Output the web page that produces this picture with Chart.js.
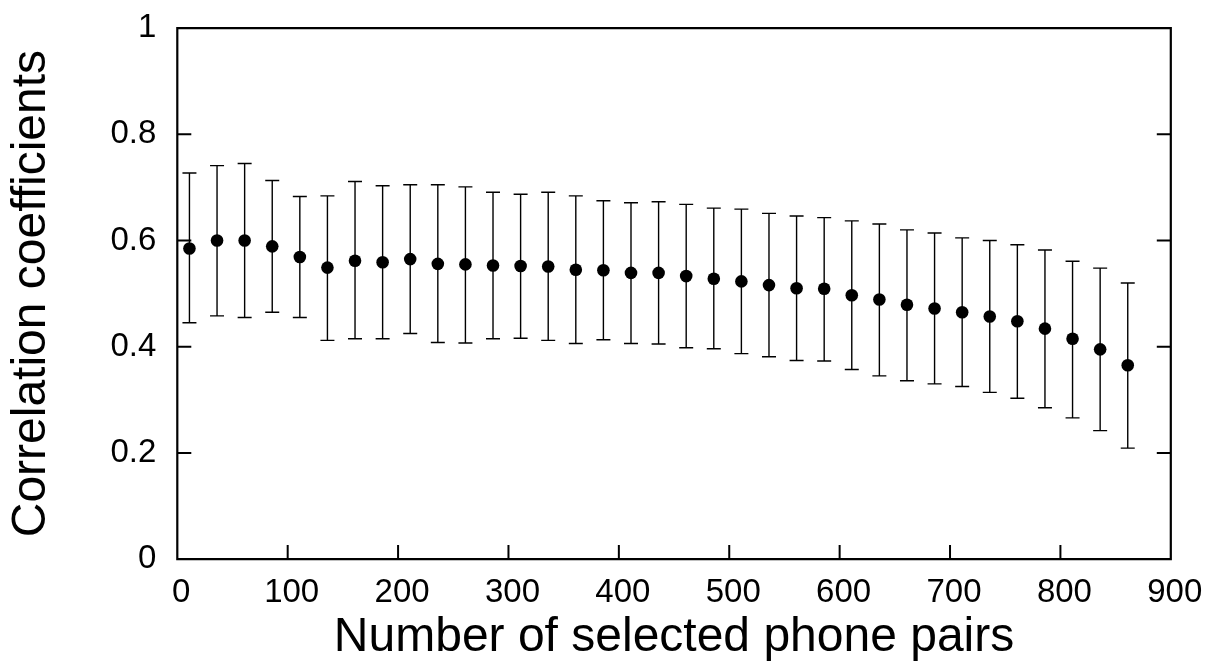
<!DOCTYPE html>
<html>
<head>
<meta charset="utf-8">
<script src="https://cdn.jsdelivr.net/npm/chart.js@4.4.1/dist/chart.umd.min.js"></script>
<style>
  html, body { margin: 0; padding: 0; background: #fff; }
  #wrap { width: 1207px; height: 662px; }
</style>
</head>
<body>
<div id="wrap"><canvas id="c" width="1207" height="662"></canvas></div>
<script>
const pairCounts = [11,36,61,86,111,136,161,186,211,236,261,286,311,336,361,386,411,436,461,486,511,536,561,586,611,636,661,686,711,736,761,786,811,836,861];
const meanCorr = [0.585,0.600,0.600,0.589,0.569,0.549,0.562,0.559,0.565,0.556,0.555,0.553,0.552,0.551,0.545,0.544,0.539,0.539,0.533,0.528,0.523,0.516,0.510,0.509,0.497,0.489,0.479,0.472,0.465,0.457,0.448,0.434,0.415,0.395,0.365];
const upperCorr = [0.727,0.741,0.745,0.713,0.683,0.684,0.711,0.703,0.705,0.705,0.701,0.691,0.687,0.691,0.684,0.675,0.671,0.673,0.668,0.661,0.659,0.651,0.646,0.643,0.637,0.631,0.620,0.614,0.605,0.600,0.592,0.582,0.561,0.548,0.520];
const lowerCorr = [0.445,0.458,0.455,0.465,0.455,0.412,0.415,0.415,0.425,0.408,0.407,0.415,0.416,0.412,0.406,0.413,0.406,0.405,0.398,0.396,0.387,0.381,0.374,0.373,0.357,0.345,0.336,0.330,0.325,0.314,0.303,0.285,0.266,0.242,0.209];
const xTickValues = [0,100,200,300,400,500,600,700,800,900];
const yTickValues = [0,0.2,0.4,0.6,0.8,1];
const yTickLabels = ['0','0.2','0.4','0.6','0.8','1'];
const xTitle = 'Number of selected phone pairs';
const yTitle = 'Correlation coefficients';

const points = pairCounts.map((x, i) => ({ x: x, y: meanCorr[i] }));
const FONT = 'Liberation Sans, Arial, Helvetica, sans-serif';

const errorBarPlugin = {
  id: 'errorBars',
  beforeDatasetsDraw(chart) {
    const ctx = chart.ctx, xs = chart.scales.x, ys = chart.scales.y;
    ctx.save();
    ctx.strokeStyle = '#000';
    ctx.lineWidth = 1.4;
    const cap = 7;
    pairCounts.forEach((v, i) => {
      const px = xs.getPixelForValue(v);
      const pTop = ys.getPixelForValue(upperCorr[i]);
      const pBot = ys.getPixelForValue(lowerCorr[i]);
      ctx.beginPath();
      ctx.moveTo(px, pTop); ctx.lineTo(px, pBot);
      ctx.moveTo(px - cap, pTop); ctx.lineTo(px + cap, pTop);
      ctx.moveTo(px - cap, pBot); ctx.lineTo(px + cap, pBot);
      ctx.stroke();
    });
    ctx.restore();
  }
};

const framePlugin = {
  id: 'frame',
  afterDraw(chart) {
    const ctx = chart.ctx, a = chart.chartArea, xs = chart.scales.x, ys = chart.scales.y;
    const tl = 14;
    ctx.save();
    ctx.strokeStyle = '#000';
    ctx.lineWidth = 2.2;
    ctx.beginPath();
    ctx.rect(a.left, a.top, a.right - a.left, a.bottom - a.top);
    ctx.stroke();
    ctx.lineWidth = 2;
    ctx.beginPath();
    xTickValues.forEach(v => {
      if (v === xs.min || v === xs.max) return;
      const px = xs.getPixelForValue(v);
      ctx.moveTo(px, a.bottom); ctx.lineTo(px, a.bottom - tl);
    });
    yTickValues.forEach(v => {
      if (v === ys.min || v === ys.max) return;
      const py = ys.getPixelForValue(v);
      ctx.moveTo(a.left, py); ctx.lineTo(a.left + tl, py);
      ctx.moveTo(a.right, py); ctx.lineTo(a.right - tl, py);
    });
    ctx.stroke();
    ctx.restore();
  }
};

new Chart(document.getElementById('c'), {
  type: 'scatter',
  data: {
    datasets: [{
      data: points,
      pointRadius: 6.3,
      pointHoverRadius: 6.3,
      pointBackgroundColor: '#000',
      pointBorderColor: '#000',
      pointBorderWidth: 0,
      showLine: false
    }]
  },
  options: {
    responsive: false,
    animation: false,
    devicePixelRatio: 1,
    layout: { padding: { top: 28.1, right: 36.2, bottom: 0, left: 0 } },
    plugins: { legend: { display: false }, tooltip: { enabled: false } },
    scales: {
      x: {
        type: 'linear',
        min: 0, max: 900,
        afterBuildTicks: (s) => { s.ticks = xTickValues.map(v => ({ value: v })); },
        afterFit: (s) => { s.height = 102.9; s.paddingLeft = 0; s.paddingRight = 0; },
        grid: { display: false, drawTicks: false },
        border: { display: false },
        ticks: { padding: 14, labelOffset: 4, color: '#000', font: { family: FONT, size: 33 }, maxRotation: 0, autoSkip: false },
        title: { display: true, text: xTitle, color: '#000', padding: { top: 0, bottom: 0 }, font: { family: FONT, size: 48, lineHeight: 1 } }
      },
      y: {
        type: 'linear',
        min: 0, max: 1,
        afterBuildTicks: (s) => { s.ticks = yTickValues.map(v => ({ value: v })); },
        afterFit: (s) => { s.width = 177.3; s.paddingTop = 0; s.paddingBottom = 0; },
        grid: { display: false, drawTicks: false },
        border: { display: false },
        ticks: {
          padding: 21, color: '#000', font: { family: FONT, size: 33 }, autoSkip: false,
          callback: (v) => { const i = yTickValues.indexOf(v); return i >= 0 ? yTickLabels[i] : ''; }
        },
        title: { display: true, text: yTitle, color: '#000', padding: { top: 8, bottom: 0 }, font: { family: FONT, size: 48, lineHeight: 1 } }
      }
    }
  },
  plugins: [errorBarPlugin, framePlugin]
});
</script>
</body>
</html>
